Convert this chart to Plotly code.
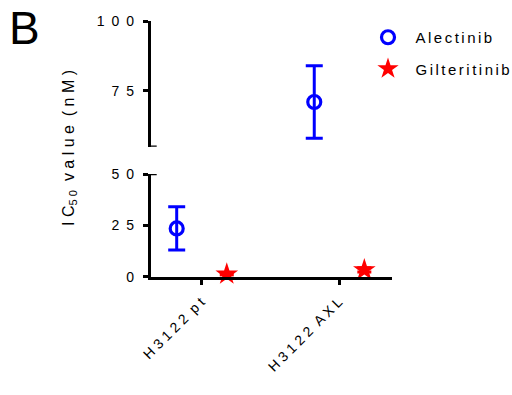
import plotly.graph_objects as go

# ---------------- data ----------------
cell_lines = ["H3122 pt", "H3122 AXL"]
x_tick_text = ["H 3 1 2 2 \u00a0p t", "H 3 1 2 2 \u00a0A X L"]
alectinib_mean = [23.5, 71.0]
alectinib_err = [10.5, 13.0]
gilteritinib_mean = [1.2, 3.3]
gilteritinib_err = [0.4, 1.0]
lower_ticks = [0, 25, 50]
lower_tick_text = ["0", "2\u20025", "5\u20020"]
upper_ticks = [75, 100]
upper_tick_text = ["7\u20025", "1\u20020\u20020"]
lower_range = [0, 50]
upper_range = [55, 100]
series_names = ["\u2002A\u2006l\u2006e\u2006c\u2006t\u2006i\u2006n\u2006i\u2006b",
                "\u2002G\u2006i\u2006l\u2006t\u2006e\u2006r\u2006i\u2006t\u2006i\u2006n\u2006i\u2006b"]

# ---------------- style ----------------
W, H = 512, 395
BLUE = "#0000FF"
RED = "#FF0000"
FONT = "Liberation Sans, Arial, sans-serif"
X_RANGE = [-0.371, 1.381]
OFFSET = 0.182


def fx(p):
    return p / W


def fy(p):
    return 1 - p / H


fig = go.Figure()


def add_series(name, means, errs, offset, marker, color, err_w):
    first = True
    for i, (m, e) in enumerate(zip(means, errs)):
        yaxis = "y2" if m > upper_range[0] else "y"
        fig.add_trace(go.Scatter(
            x=[i + offset], y=[m], mode="markers", name=name,
            legendgroup=name, showlegend=first, xaxis="x", yaxis=yaxis,
            marker=marker,
            error_y=dict(type="data", array=[e], color=color,
                         thickness=3, width=err_w),
            cliponaxis=False,
        ))
        first = False


add_series(series_names[0], alectinib_mean, alectinib_err, -OFFSET,
           dict(symbol="circle-open", size=13, color=BLUE,
                line=dict(width=3.2, color=BLUE)), BLUE, 8.5)
add_series(series_names[1], gilteritinib_mean, gilteritinib_err, OFFSET,
           dict(symbol="star", size=17, color=RED,
                line=dict(width=0, color=RED)), RED, 7)

axis_common = dict(showline=True, linewidth=2.5, linecolor="black",
                   ticks="outside", tickwidth=2.5, tickcolor="black",
                   showgrid=False, zeroline=False, automargin=False,
                   tickfont=dict(family=FONT, size=14, color="black"))

fig.update_layout(
    width=W, height=H,
    margin=dict(l=0, r=0, t=0, b=0, autoexpand=False),
    paper_bgcolor="white", plot_bgcolor="white",
    font=dict(family=FONT, color="black"),
    xaxis=dict(domain=[fx(150.7), fx(391.7)], range=X_RANGE,
               tickmode="array", tickvals=list(range(len(cell_lines))),
               ticktext=x_tick_text, tickangle=-45, ticklen=6,
               ticklabelstandoff=3, ticklabelshift=-1,
               anchor="y", **axis_common),
    yaxis=dict(domain=[fy(276.7), fy(174)], range=lower_range,
               tickmode="array", tickvals=lower_ticks,
               ticktext=lower_tick_text, ticklen=5, anchor="x",
               ticklabelstandoff=6, **axis_common),
    yaxis2=dict(domain=[fy(146.7), fy(21)], range=upper_range,
                tickmode="array", tickvals=upper_ticks,
                ticktext=upper_tick_text, ticklen=5, anchor="x",
                ticklabelstandoff=6, **axis_common),
    legend=dict(x=fx(368), y=fy(21), xanchor="left", yanchor="top",
                font=dict(family=FONT, size=15, color="black"),
                tracegroupgap=9, bgcolor="rgba(0,0,0,0)"),
    showlegend=True,
)

# axis break marks
fig.add_shape(type="line", xref="x", yref="y", xsizemode="pixel",
              xanchor=X_RANGE[0], x0=0, x1=6, y0=lower_range[1],
              y1=lower_range[1], line=dict(color="black", width=2.5))
fig.add_shape(type="line", xref="x", yref="y2", xsizemode="pixel",
              xanchor=X_RANGE[0], x0=-5, x1=6, y0=upper_range[0],
              y1=upper_range[0], line=dict(color="black", width=2.5))

fig.add_annotation(text="B", xref="paper", yref="paper", x=fx(7), y=fy(0),
                   xanchor="left", yanchor="top", showarrow=False,
                   font=dict(family=FONT, size=46, color="black"))
fig.add_annotation(text="I C<sub>5 0</sub> \u00a0v a l u e \u00a0( n M )",
                   xref="paper", yref="paper", x=fx(69), y=fy(148),
                   xanchor="center", yanchor="middle", textangle=-90,
                   showarrow=False,
                   font=dict(family=FONT, size=16, color="black"))

fig.write_html("out.html")
